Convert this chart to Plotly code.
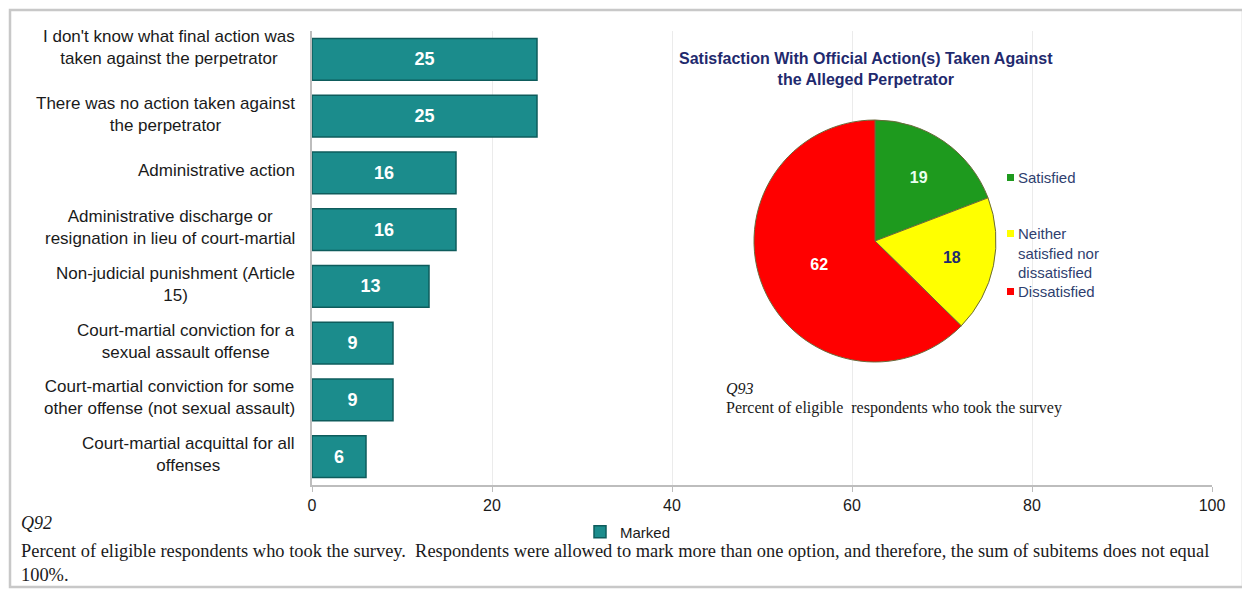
import plotly.graph_objects as go

# ---- data ----
categories = [
    "I don't know what final action was<br>taken against the perpetrator",
    "There was no action taken against<br>the perpetrator",
    "Administrative action",
    "Administrative discharge or<br>resignation in lieu of court-martial",
    "Non-judicial punishment (Article<br>15)",
    "Court-martial conviction for a<br>sexual assault offense",
    "Court-martial conviction for some<br>other offense (not sexual assault)",
    "Court-martial acquittal for all<br>offenses",
]
marked = [25, 25, 16, 16, 13, 9, 9, 6]
cat_ids = [f"c{i}" for i in range(len(categories))]

pie_labels = ["Satisfied", "Neither<br>satisfied nor<br>dissatisfied", "Dissatisfied"]
pie_values = [19, 18, 62]
pie_colors = ["#1E9A1E", "#FFFF00", "#FF0000"]
pie_text_colors = ["#E8FFF0", "#1F2A6E", "#FFFFFF"]

x_ticks = [0, 20, 40, 60, 80, 100]

# ---- layout helpers (screen pixel -> paper); page body has an 8px margin ----
OFF = 8
L, R, T, B = 312, 1212, 31, 485
W, H = 1250 - OFF, 590 - OFF
def px(x):
    return (x - L) / (R - L)
def py(y):
    return (B - y) / (B - T)

fig = go.Figure()

fig.add_trace(go.Bar(
    y=cat_ids, x=marked, orientation="h", name="Marked",
    marker=dict(color="#1B8C8C", line=dict(color="#0E5C5C", width=1.5)),
    width=0.74,
    text=[str(v) for v in marked], textposition="inside", insidetextanchor="middle",
    textfont=dict(color="white", size=18, family="Liberation Sans", weight="bold"),
    legend="legend", showlegend=True, hoverinfo="x+y",
))

fig.add_trace(go.Pie(
    labels=pie_labels, values=pie_values, sort=False, direction="clockwise", rotation=0,
    marker=dict(colors=pie_colors, line=dict(color="#6A6A3A", width=1)),
    textinfo="value", textposition="inside",
    textfont=dict(color=pie_text_colors, size=16, family="Liberation Sans", weight="bold"),
    insidetextorientation="horizontal",
    domain=dict(x=[px(754), px(996)], y=[py(362), py(120)]),
    showlegend=False,
))

annotations = []
for i, (cid, lab) in enumerate(zip(cat_ids, categories)):
    annotations.append(dict(
        x=px(297), xref="paper", y=cid, yref="y", text=lab, showarrow=False,
        xanchor="right", yanchor="middle", align="center",
        yshift=12 if i == 0 else 2,
        font=dict(family="Liberation Sans", size=17, color="#1A1A1A"),
    ))

# pie legend (manual, to match the original spacing)
legend_y = [177, 233, 291]
for lab, col, ly in zip(pie_labels, pie_colors, legend_y):
    annotations.append(dict(
        x=px(1016), y=py(ly - 10), xref="paper", yref="paper", showarrow=False,
        xanchor="left", yanchor="top", align="left", text=lab,
        font=dict(family="Liberation Sans", size=15, color="#2F3F6F"),
    ))

annotations += [
    dict(x=px(866), y=py(69), xref="paper", yref="paper", showarrow=False,
         xanchor="center", yanchor="middle",
         text="<b>Satisfaction With Official Action(s) Taken Against<br>the Alleged Perpetrator</b>",
         font=dict(family="Liberation Sans", size=16, color="#1F2A6E"), align="center"),
    dict(x=px(724), y=py(388), xref="paper", yref="paper", showarrow=False,
         xanchor="left", yanchor="middle",
         text="<i>Q93</i>", font=dict(family="Liberation Serif", size=16, color="#1A1A1A")),
    dict(x=px(724), y=py(408), xref="paper", yref="paper", showarrow=False,
         xanchor="left", yanchor="middle",
         text="Percent of eligible  respondents who took the survey",
         font=dict(family="Liberation Serif", size=16, color="#1A1A1A")),
    dict(x=px(19), y=py(523), xref="paper", yref="paper", showarrow=False,
         xanchor="left", yanchor="middle",
         text="<i>Q92</i>", font=dict(family="Liberation Serif", size=18, color="#1A1A1A")),
    dict(x=px(19), y=py(563), xref="paper", yref="paper", showarrow=False,
         xanchor="left", yanchor="middle", align="left",
         text="Percent of eligible respondents who took the survey.  Respondents were allowed to mark more than one option, and therefore, the sum of subitems does not equal<br>100%.",
         font=dict(family="Liberation Serif", size=18.4, color="#1A1A1A")),
]

shapes = [dict(type="rect", xref="paper", yref="paper",
               x0=px(10), x1=px(1243), y0=py(587), y1=py(10),
               line=dict(color="#C8C8C8", width=2.5), layer="below")]
for col, ly in zip(pie_colors, legend_y):
    shapes.append(dict(type="rect", xref="paper", yref="paper",
                       x0=px(1007), x1=px(1014), y0=py(ly + 4), y1=py(ly - 3),
                       fillcolor=col, line=dict(width=0)))

fig.update_layout(
    width=W, height=H,
    margin=dict(l=L - OFF, r=1250 - R, t=T - OFF, b=590 - B, autoexpand=False),
    paper_bgcolor="white", plot_bgcolor="white",
    xaxis=dict(range=[0, 100], tickvals=x_ticks, showgrid=True, gridcolor="#EBEBEB",
               showline=True, linecolor="#BDBDBD", linewidth=2, ticks="outside",
               ticklen=5, tickcolor="#BDBDBD", zeroline=False,
               tickfont=dict(family="Liberation Sans", size=16, color="#1A1A1A")),
    yaxis=dict(categoryorder="array", categoryarray=cat_ids, autorange="reversed",
               showticklabels=False, showline=True, linecolor="#BDBDBD", linewidth=2,
               showgrid=False, ticks=""),
    legend=dict(orientation="h", x=px(628), y=py(532), xanchor="center", yanchor="middle",
                font=dict(family="Liberation Sans", size=15, color="#1A1A1A"),
                bgcolor="rgba(0,0,0,0)", itemwidth=30),
    annotations=annotations, shapes=shapes,
)

fig.write_html("out.html")
